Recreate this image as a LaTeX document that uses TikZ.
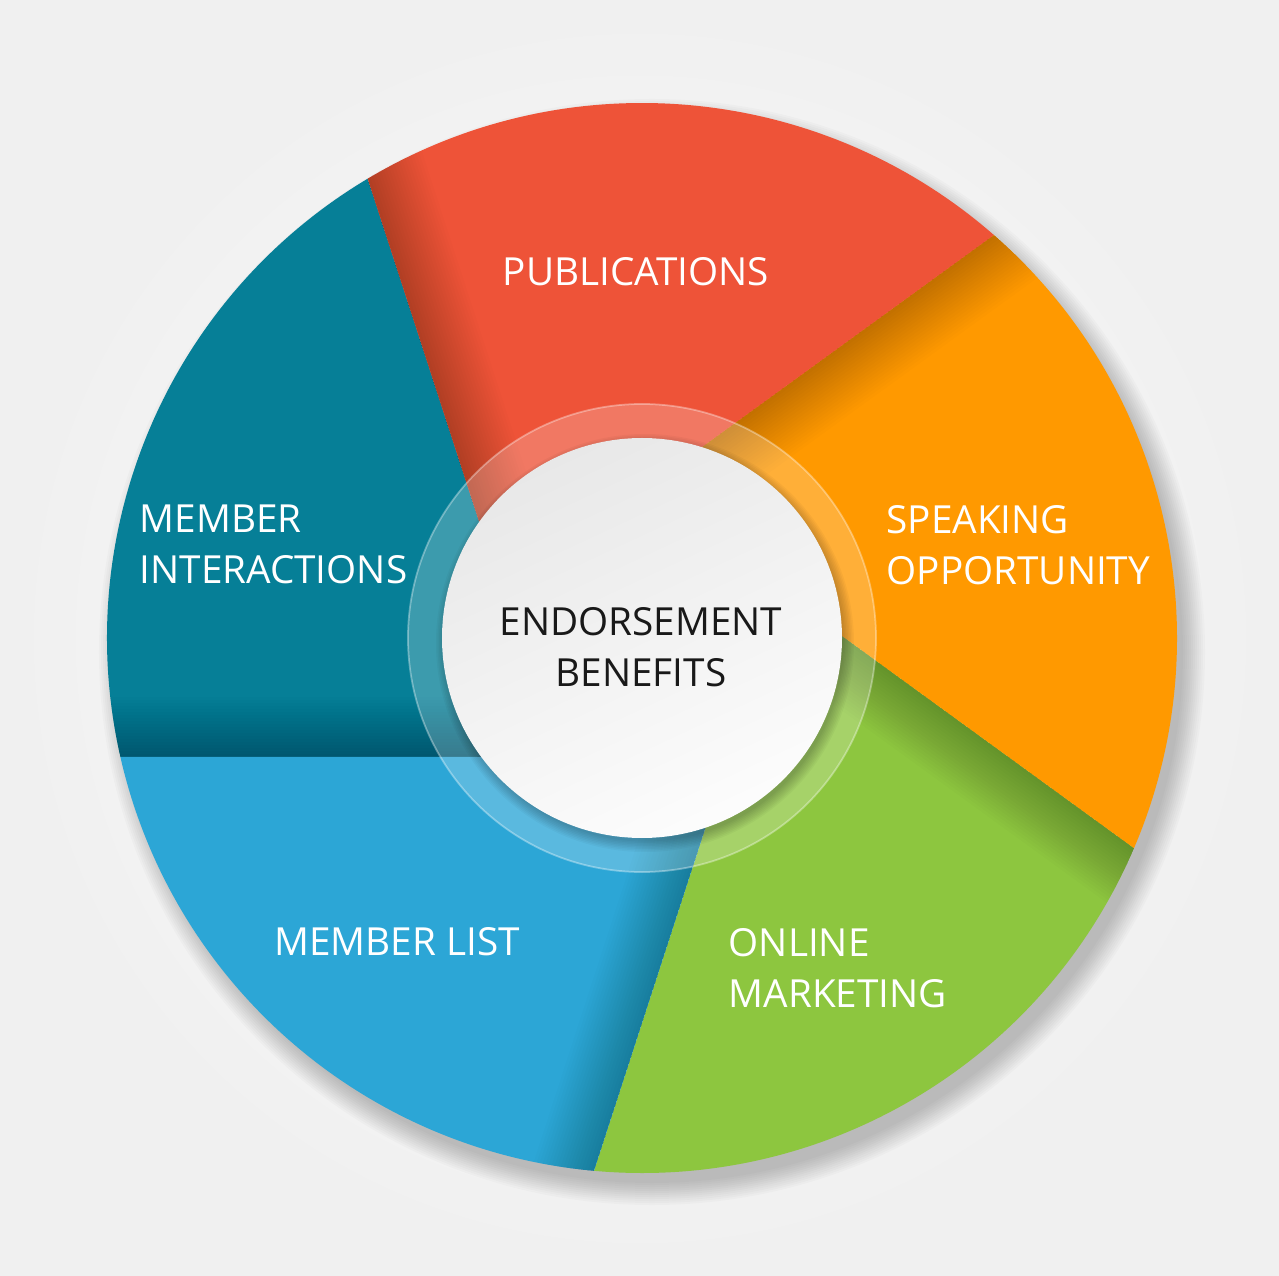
\documentclass[tikz,border=0pt]{standalone}
\usepackage{fontspec}
\setmainfont{Open Sans}
\usepackage{tikz}

\definecolor{segteal}{RGB}{6,127,151}
\definecolor{segred}{RGB}{238,83,56}
\definecolor{segorange}{RGB}{255,153,0}
\definecolor{seggreen}{RGB}{141,198,63}
\definecolor{segblue}{RGB}{44,166,214}

\begin{document}
\begin{tikzpicture}[x=0.01cm,y=0.01cm,
  segtext/.style={text=white,font=\fontsize{11}{14.5}\selectfont,align=left,inner sep=0pt},
  hubtext/.style={text=black!90,font=\fontsize{11}{14.5}\selectfont,align=center,inner sep=0pt}]

\useasboundingbox (-642,-638) rectangle (637,638);
\shade[inner color=white,outer color=black!6] (-642,-638) rectangle (637,638);

% soft shadow of the wheel
\foreach \i in {1,...,12} {
\fill[black,fill opacity=0.02] (10,-14) circle (529+2*\i);
}

% five segments, each one turned by 72 degrees
\foreach \k/\col in {0/segteal,1/segred,2/segorange,3/seggreen,4/segblue} {
\begin{scope}[rotate=-72*\k]
\fill[\col] (192.85:535) -- (234:147.1) -- (120.85:535)
  arc[start angle=120.85,end angle=192.85,radius=535] -- cycle;
\clip (192.85:535) -- (234:147.1) -- (120.85:535)
  arc[start angle=120.85,end angle=192.85,radius=535] -- cycle;
\foreach \i in {1,...,20} {
\fill[black,fill opacity=0.013] (-560,-119) rectangle (200,-119+3*\i);
}
\end{scope}
}

% glass ring and hub
\fill[white,fill opacity=0.22,even odd rule] (0,0) circle (234) circle (200);
\draw[white,opacity=0.35,line width=0.5pt] (0,0) circle (234);
\foreach \i in {1,...,8} {
\fill[black,fill opacity=0.03] (3,-5) circle (197+1.5*\i);
}
\shade[top color=black!9,bottom color=black!1,shading angle=25] (0,0) circle (200);

\node[segtext,align=center] (pub) at (-6,366) {PUBLICATIONS};
\node[segtext,anchor=west] (memint) at (-503,94) {MEMBER\\INTERACTIONS};
\node[segtext,anchor=west] (speak) at (244,93) {SPEAKING\\OPPORTUNITY};
\node[segtext,align=center] (mlist) at (-245,-304) {MEMBER LIST};
\node[segtext,anchor=west] (online) at (86,-330) {ONLINE\\MARKETING};
\node[hubtext] (hub) at (-1,-9) {ENDORSEMENT\\BENEFITS};
\end{tikzpicture}
\end{document}
